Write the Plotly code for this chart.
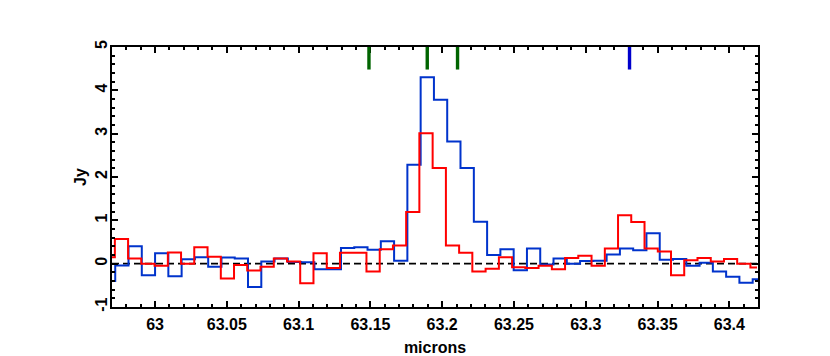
import plotly.graph_objects as go

# Blue spectrum: bin-centre wavelengths (microns) and flux (Jy)
blue_wave = [62.9676, 62.9769, 62.9861, 62.9954, 63.0046, 63.0139, 63.0231, 63.0324,
             63.0416, 63.0509, 63.0601, 63.0694, 63.0786, 63.0879, 63.0971, 63.1064,
             63.1156, 63.1249, 63.1341, 63.1434, 63.1526, 63.1619, 63.1711, 63.1804,
             63.1896, 63.1989, 63.2081, 63.2174, 63.2267, 63.2359, 63.2452, 63.2544,
             63.2637, 63.2729, 63.2822, 63.2914, 63.3007, 63.3099, 63.3192, 63.3284,
             63.3377, 63.3469, 63.3562, 63.3654, 63.3747, 63.3839, 63.3932, 63.4024,
             63.4117, 63.4209]
blue_flux = [-0.40, -0.04, 0.40, -0.27, 0.24, -0.29, 0.10, 0.15, -0.07, 0.14,
             0.12, -0.54, 0.05, 0.12, 0.04, 0.03, -0.13, -0.13, 0.36, 0.38,
             0.32, 0.52, 0.07, 2.28, 4.30, 3.78, 2.82, 2.21, 0.97, 0.20,
             0.33, -0.15, 0.35, -0.02, 0.12, 0.00, 0.06, 0.07, 0.21, 0.35,
             0.31, 0.70, 0.09, 0.11, -0.05, 0.02, -0.18, -0.30, -0.44, -0.36]

# Red spectrum
red_wave = [62.9674, 62.9766, 62.9858, 62.9950, 63.0043, 63.0135, 63.0227, 63.0319,
            63.0412, 63.0504, 63.0596, 63.0688, 63.0781, 63.0873, 63.0965, 63.1057,
            63.1150, 63.1242, 63.1334, 63.1426, 63.1519, 63.1611, 63.1703, 63.1795,
            63.1887, 63.1980, 63.2072, 63.2164, 63.2256, 63.2349, 63.2441, 63.2533,
            63.2625, 63.2718, 63.2810, 63.2902, 63.2994, 63.3087, 63.3179, 63.3271,
            63.3363, 63.3456, 63.3548, 63.3640, 63.3732, 63.3825, 63.3917, 63.4009,
            63.4101, 63.4193]
red_flux = [0.15, 0.57, 0.12, 0.00, -0.05, 0.26, 0.00, 0.38, 0.16, -0.34,
            -0.03, -0.16, -0.07, 0.12, 0.05, -0.45, 0.24, -0.10, 0.25, 0.25,
            -0.18, 0.33, 0.42, 1.19, 3.01, 2.21, 0.42, 0.25, -0.18, -0.12,
            0.15, -0.08, -0.10, -0.05, -0.13, 0.13, 0.18, -0.05, 0.35, 1.12,
            0.96, 0.35, 0.28, -0.27, 0.08, 0.13, 0.05, 0.11, 0.00, -0.09]

# Line markers at top of plot
green_marks = [63.149, 63.1896, 63.2107]
blue_marks = [63.3305]
mark_top = 5.0
mark_bottom = 4.48

x_tickvals = [63.0, 63.05, 63.1, 63.15, 63.2, 63.25, 63.3, 63.35, 63.4]
x_ticktext = ["63", "63.05", "63.1", "63.15", "63.2", "63.25", "63.3", "63.35", "63.4"]
y_tickvals = [-1, 0, 1, 2, 3, 4, 5]
y_ticktext = ["-1", "0", "1", "2", "3", "4", "5"]

FONT = "Liberation Sans, Arial, sans-serif"

fig = go.Figure()
fig.add_trace(go.Scatter(x=blue_wave, y=blue_flux, mode="lines", line_shape="hvh",
                         line=dict(color="#0033CC", width=2), showlegend=False))
fig.add_trace(go.Scatter(x=red_wave, y=red_flux, mode="lines", line_shape="hvh",
                         line=dict(color="#FF0000", width=2), showlegend=False))

shapes = [dict(type="line", xref="paper", yref="y", x0=0, x1=1, y0=0, y1=0,
               line=dict(color="black", width=1.6, dash="7px,4px"), layer="below")]
for v in green_marks:
    shapes.append(dict(type="line", xref="x", yref="y", x0=v, x1=v, y0=mark_bottom, y1=mark_top,
                       line=dict(color="#006400", width=3.4)))
for v in blue_marks:
    shapes.append(dict(type="line", xref="x", yref="y", x0=v, x1=v, y0=mark_bottom, y1=mark_top,
                       line=dict(color="#0000CC", width=3.4)))

fig.update_layout(
    width=830, height=356, autosize=False,
    margin=dict(l=112, r=72, t=47, b=49, autoexpand=False),
    paper_bgcolor="white", plot_bgcolor="white",
    shapes=shapes,
    font=dict(family=FONT, color="black"),
    xaxis=dict(
        range=[62.97, 63.42], tickvals=x_tickvals, ticktext=x_ticktext,
        ticks="inside", ticklen=6, tickwidth=1.5, tickcolor="black",
        showline=True, linewidth=2, linecolor="black", mirror="allticks",
        showgrid=False, zeroline=False, automargin=False, ticklabelstandoff=2,
        minor=dict(dtick=0.01, tick0=63.0, ticks="inside", ticklen=3, tickwidth=1.5,
                   tickcolor="black", showgrid=False),
        tickfont=dict(family=FONT, size=16, weight="bold", color="black"),
        title=dict(text="microns", font=dict(family=FONT, size=16, weight="bold"), standoff=11),
    ),
    yaxis=dict(
        range=[-1, 5], tickvals=y_tickvals, ticktext=y_ticktext, tickangle=-90,
        ticks="inside", ticklen=6, tickwidth=1.5, tickcolor="black",
        showline=True, linewidth=2, linecolor="black", mirror="allticks",
        showgrid=False, zeroline=False, automargin=False, ticklabelstandoff=-3,
        minor=dict(dtick=0.2, tick0=0, ticks="inside", ticklen=3, tickwidth=1.5,
                   tickcolor="black", showgrid=False),
        tickfont=dict(family=FONT, size=16, weight="bold", color="black"),
        title=dict(text="Jy", font=dict(family=FONT, size=16, weight="bold"), standoff=2),
    ),
)

fig.write_html("out.html", config={"displayModeBar": False},
               post_script="document.body.style.margin='0';")
